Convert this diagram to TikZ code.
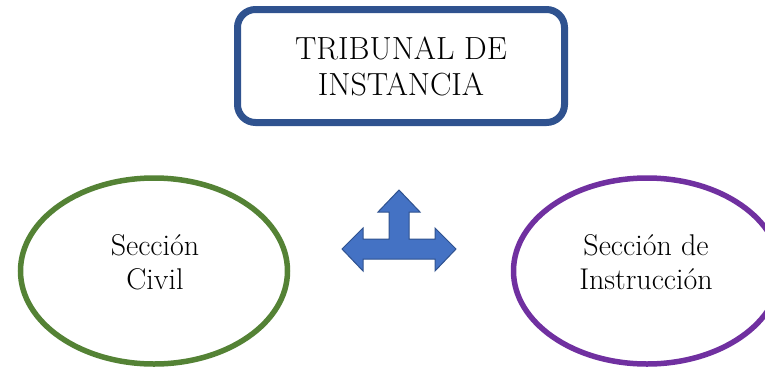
\documentclass[tikz,border=0pt]{standalone}
\usepackage{tikz}
\usetikzlibrary{shapes.geometric, arrows}
\usetikzlibrary{calc,shapes}
\usetikzlibrary{positioning}
\definecolor{boxblue}{HTML}{2F528F}
\definecolor{arrowfill}{HTML}{4472C4}
\definecolor{civilgreen}{HTML}{548235}
\definecolor{instrpurple}{HTML}{7030A0}

\begin{document}
\begin{tikzpicture}[x=1pt,y=1pt,yscale=-1,xscale=1]
  %set diagram to the size of the reference: 765 by 367
 \useasboundingbox (0,0) rectangle (765,367);
 \tikzstyle{titlebox} = [draw=boxblue,line width=7pt,rounded corners=18pt,minimum width=327pt,minimum height=113pt,inner sep=0pt]
 \tikzstyle{section} = [ellipse,line width=5.5pt,minimum width=267pt,minimum height=186pt,inner sep=0pt]
 \tikzstyle{sectext} = [align=center,inner sep=0pt,font=\fontsize{30}{34}\selectfont]
  %Draw the court on top
 \node [titlebox,align=center,font=\fontsize{32}{36}\selectfont] (tribunal) at (401,66) {TRIBUNAL DE\\INSTANCIA};
  %Draw the two sections
 \node [section,draw=civilgreen] (civil) at (154,271) {};
 \node [section,draw=instrpurple] (instruccion) at (647,271) {};
  %Labelling
 \node [sectext] (civiltext) at ($(civil.center)+(1,-9)$) {Sección\\Civil};
 \node [sectext] (instrtext) at ($(instruccion.center)+(-1,-9)$) {Sección de\\Instrucción};
  %Draw the three way arrow
 \filldraw [fill=arrowfill,draw=boxblue,line width=1pt] (399,190) -- (420,212) -- (409,212) -- (409,239)
   -- (435,239) -- (435,228) -- (456,249) -- (435,271) -- (435,259)
   -- (363,259) -- (363,271) -- (342,249) -- (363,228) -- (363,239)
   -- (389,239) -- (389,212) -- (378,212) -- cycle;
\end{tikzpicture}
\end{document}
